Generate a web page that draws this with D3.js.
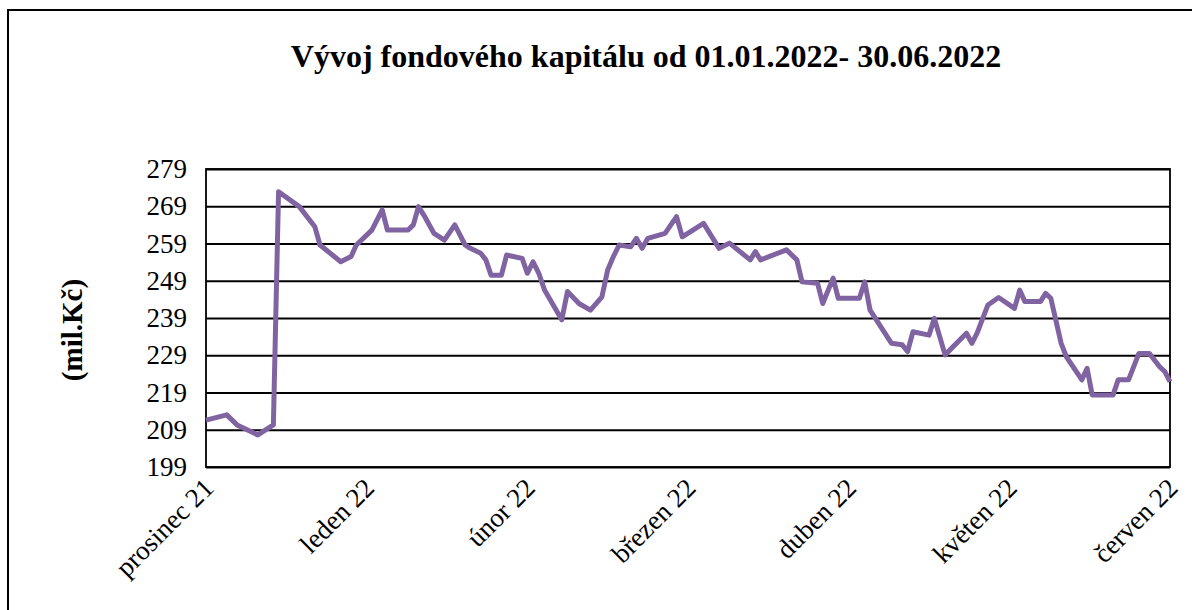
<!DOCTYPE html>
<html lang="cs">
<head>
<meta charset="utf-8">
<title>Vývoj fondového kapitálu</title>
<script src="https://d3js.org/d3.v7.min.js"></script>
<style>
  body { margin: 0; background: #fff; }
  svg text { font-family: "Liberation Serif", "Times New Roman", serif; fill: #000; }
  .grid line { stroke: #000; stroke-width: 1.8px; }
  .grid path { display: none; }
  .xaxis path, .xaxis line { display: none; }
</style>
</head>
<body>
<script>
// data (mil. Kč)
var dates = [
  "2021-12-01","2021-12-05","2021-12-07","2021-12-11","2021-12-14","2021-12-15","2021-12-19",
  "2021-12-22","2021-12-23","2021-12-27","2021-12-29","2021-12-30",
  "2022-01-02","2022-01-04","2022-01-05","2022-01-09","2022-01-10","2022-01-11","2022-01-12",
  "2022-01-14","2022-01-16","2022-01-18","2022-01-20","2022-01-21","2022-01-23","2022-01-24",
  "2022-01-25","2022-01-27","2022-01-28","2022-01-31",
  "2022-02-01","2022-02-02","2022-02-03","2022-02-04","2022-02-07","2022-02-08","2022-02-10",
  "2022-02-12","2022-02-14","2022-02-15","2022-02-16","2022-02-17","2022-02-19","2022-02-20",
  "2022-02-21","2022-02-22","2022-02-25","2022-02-27","2022-02-28",
  "2022-03-04","2022-03-07","2022-03-09","2022-03-13","2022-03-14","2022-03-15","2022-03-20",
  "2022-03-22","2022-03-23","2022-03-26","2022-03-27","2022-03-29","2022-03-30",
  "2022-04-03","2022-04-04","2022-04-05","2022-04-09","2022-04-11","2022-04-12","2022-04-13",
  "2022-04-16","2022-04-17","2022-04-19","2022-04-23","2022-04-24","2022-04-25","2022-04-27",
  "2022-04-29",
  "2022-05-02","2022-05-03","2022-05-04","2022-05-07","2022-05-08","2022-05-09","2022-05-11",
  "2022-05-12","2022-05-15","2022-05-16","2022-05-17","2022-05-21","2022-05-22","2022-05-24",
  "2022-05-26","2022-05-28","2022-05-30","2022-05-31",
  "2022-06-01"
];
var values = [
  211.6, 213.0, 210.3, 207.6, 210.3, 272.9, 268.9,
  263.5, 258.6, 254.1, 255.5, 258.6,
  262.6, 268.0, 262.6, 262.6, 264.0, 268.9, 266.7,
  261.7, 259.9, 264.0, 258.6, 257.7, 256.4, 254.6,
  250.5, 250.5, 255.9, 255.0,
  251.0, 254.1, 251.0, 246.5, 238.5, 246.1, 242.9,
  241.1, 244.7, 251.9, 255.5, 258.6, 258.1, 260.4,
  257.7, 260.4, 261.7, 266.2, 260.8,
  264.4, 257.7, 259.1, 254.6, 256.8, 254.6, 257.3,
  254.6, 248.7, 248.3, 242.9, 249.7, 244.3,
  244.3, 248.7, 241.1, 232.2, 231.8, 230.0, 235.3,
  234.4, 238.9, 229.1, 234.9, 232.2, 235.0, 242.5,
  244.5,
  241.6, 246.5, 243.4, 243.4, 245.6, 244.3, 232.2,
  228.6, 222.4, 225.5, 218.3, 218.3, 222.4, 222.4,
  229.5, 229.5, 225.9, 224.6,
  221.9
];
var monthLabels = ["prosinec 21", "leden 22", "únor 22", "březen 22", "duben 22", "květen 22", "červen 22"];
var yTicks = [199, 209, 219, 229, 239, 249, 259, 269, 279];
var title = "Vývoj fondového kapitálu od 01.01.2022- 30.06.2022";
var yTitle = "(mil.Kč)";

var w = 1192, h = 610;
var plot = {left: 206, top: 169, right: 1170, bottom: 467};

var parse = d3.timeParse("%Y-%m-%d");
// month position: 0 = prosinec 21, months drawn equally wide
function monthPos(s) {
  var d = parse(s);
  var m = (d.getFullYear() - 2021) * 12 + d.getMonth() - 11;
  var dim = new Date(d.getFullYear(), d.getMonth() + 1, 0).getDate();
  return m + (d.getDate() - 1) / dim;
}

var data = dates.map(function(s, i) { return {pos: monthPos(s), value: values[i]}; });

var x = d3.scaleLinear().domain([0, 6]).range([plot.left, plot.right]);
var y = d3.scaleLinear().domain([199, 279]).range([plot.bottom, plot.top]);

var svg = d3.select("body").append("svg")
  .attr("width", w)
  .attr("height", h);

// outer chart frame
svg.append("rect")
  .attr("x", 8).attr("y", 10)
  .attr("width", 1300).attr("height", 800)
  .attr("fill", "#fff")
  .attr("stroke", "#000")
  .attr("stroke-width", 2);

svg.append("text")
  .attr("x", 646).attr("y", 67)
  .attr("text-anchor", "middle")
  .style("font-size", "32px")
  .style("font-weight", "bold")
  .text(title);

// grid + y labels
svg.append("g")
  .attr("class", "grid")
  .attr("transform", "translate(" + plot.left + ",0)")
  .call(d3.axisLeft(y).tickValues(yTicks).tickSize(-(plot.right - plot.left)).tickPadding(19))
  .selectAll("text")
  .style("font-size", "27px");

// plot area border
svg.append("rect")
  .attr("x", plot.left).attr("y", plot.top)
  .attr("width", plot.right - plot.left)
  .attr("height", plot.bottom - plot.top)
  .attr("fill", "none")
  .attr("stroke", "#000")
  .attr("stroke-width", 1.8);

// x labels
svg.append("g")
  .attr("class", "xaxis")
  .attr("transform", "translate(0," + plot.bottom + ")")
  .call(d3.axisBottom(x).tickValues(d3.range(7)).tickFormat(function(i) { return monthLabels[i]; }).tickSize(0))
  .selectAll("text")
  .style("font-size", "27px")
  .attr("text-anchor", "end")
  .attr("x", 0).attr("y", 0).attr("dy", "0.35em")
  .attr("transform", "translate(2,16) rotate(-45)");

svg.append("text")
  .attr("transform", "translate(82,330) rotate(-90)")
  .attr("text-anchor", "middle")
  .style("font-size", "29px")
  .style("font-weight", "bold")
  .text(yTitle);

var line = d3.line()
  .x(function(d) { return x(d.pos); })
  .y(function(d) { return y(d.value); });

svg.append("path")
  .datum(data)
  .attr("d", line)
  .attr("fill", "none")
  .attr("stroke", "#8064a2")
  .attr("stroke-width", 5)
  .attr("stroke-linejoin", "round");
</script>
</body>
</html>
